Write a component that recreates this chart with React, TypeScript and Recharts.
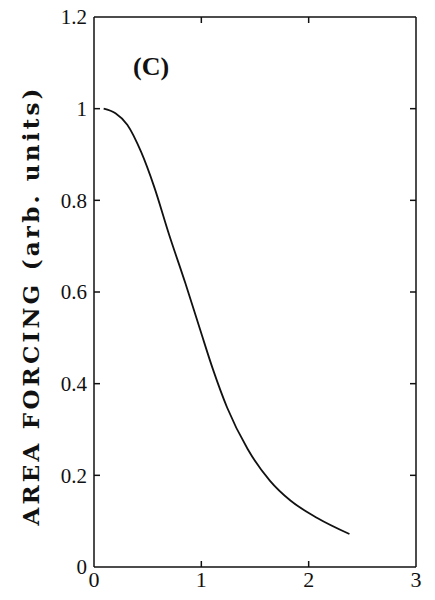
import { LineChart, Line, XAxis, YAxis } from "recharts";

// area forcing curve
const distance = [0.09, 0.2, 0.31, 0.44, 0.56, 0.7, 0.85, 0.99, 1.11, 1.24, 1.43, 1.64, 1.83, 2.08, 2.38];
const forcing = [1.0, 0.99, 0.965, 0.905, 0.83, 0.725, 0.62, 0.517, 0.43, 0.348, 0.258, 0.188, 0.145, 0.107, 0.072];

const xTicks = [0, 1, 2, 3];
const yTicks = [0, 0.2, 0.4, 0.6, 0.8, 1, 1.2];
const innerXTicks = [1, 2];
const innerYTicks = [0.2, 0.4, 0.6, 0.8, 1];

const data = distance.map((d, i) => ({ x: d, y: forcing[i] }));

const FONT = '"Liberation Serif", "DejaVu Serif", serif';
const INK = "#111";
const blank = () => "";

function YTitle() {
  return (
    <text
      x={30}
      y={307}
      transform="rotate(-90, 30, 307)"
      textAnchor="middle"
      dominantBaseline="central"
      fontFamily='"DejaVu Serif", serif'
      fontWeight="bold"
      fontSize={23}
      textLength={437}
      lengthAdjust="spacing"
      fill={INK}
    >
      AREA FORCING (arb. units)
    </text>
  );
}

export default function App() {
  const tickText = { fontFamily: FONT, fontSize: 21, fill: INK };
  return (
    <div style={{ position: "absolute", left: 0, top: 0, width: 435, height: 600, background: "#fff" }}>
      <LineChart
        width={435}
        height={600}
        data={data}
        margin={{ top: 17, right: 19, left: 0, bottom: 0 }}
      >
        {/* labelled axes */}
        <XAxis
          xAxisId="b"
          dataKey="x"
          type="number"
          domain={[0, 3]}
          ticks={xTicks}
          height={33}
          tickSize={0}
          tickMargin={4}
          tickLine={false}
          tick={{ ...tickText, fontSize: 22 }}
          stroke={INK}
          strokeWidth={1.5}
          interval={0}
        />
        <YAxis
          yAxisId="l"
          type="number"
          domain={[0, 1.2]}
          ticks={yTicks}
          width={94}
          tickSize={0}
          tickMargin={7}
          tickLine={false}
          tick={tickText}
          stroke={INK}
          strokeWidth={1.5}
          interval={0}
          label={<YTitle />}
        />
        {/* inward tick marks and the rest of the frame */}
        <XAxis
          xAxisId="bm"
          dataKey="x"
          type="number"
          domain={[0, 3]}
          ticks={innerXTicks}
          mirror
          interval={0}
          axisLine={false}
          tickSize={6}
          tickFormatter={blank}
          stroke={INK}
          strokeWidth={1.5}
        />
        <XAxis
          xAxisId="t"
          orientation="top"
          dataKey="x"
          type="number"
          domain={[0, 3]}
          ticks={innerXTicks}
          mirror
          interval={0}
          tickSize={6}
          tickFormatter={blank}
          stroke={INK}
          strokeWidth={1.5}
        />
        <YAxis
          yAxisId="lm"
          type="number"
          domain={[0, 1.2]}
          ticks={innerYTicks}
          mirror
          interval={0}
          axisLine={false}
          tickSize={6}
          tickFormatter={blank}
          stroke={INK}
          strokeWidth={1.5}
        />
        <YAxis
          yAxisId="r"
          orientation="right"
          type="number"
          domain={[0, 1.2]}
          ticks={innerYTicks}
          mirror
          interval={0}
          tickSize={6}
          tickFormatter={blank}
          stroke={INK}
          strokeWidth={1.5}
        />
        {/* invisible twins so the frame axes get a scale and draw their ticks */}
        <Line xAxisId="bm" yAxisId="lm" dataKey="y" stroke="none" dot={false} legendType="none" isAnimationActive={false} />
        <Line xAxisId="t" yAxisId="r" dataKey="y" stroke="none" dot={false} legendType="none" isAnimationActive={false} />
        <Line
          xAxisId="b"
          yAxisId="l"
          type="monotone"
          dataKey="y"
          stroke={INK}
          strokeWidth={1.8}
          dot={false}
          isAnimationActive={false}
        />
      </LineChart>
      <div
        style={{
          position: "absolute",
          left: 133,
          top: 52,
          lineHeight: "30px",
          fontFamily: FONT,
          fontWeight: "bold",
          fontSize: 26,
          color: INK,
        }}
      >
        (C)
      </div>
    </div>
  );
}
